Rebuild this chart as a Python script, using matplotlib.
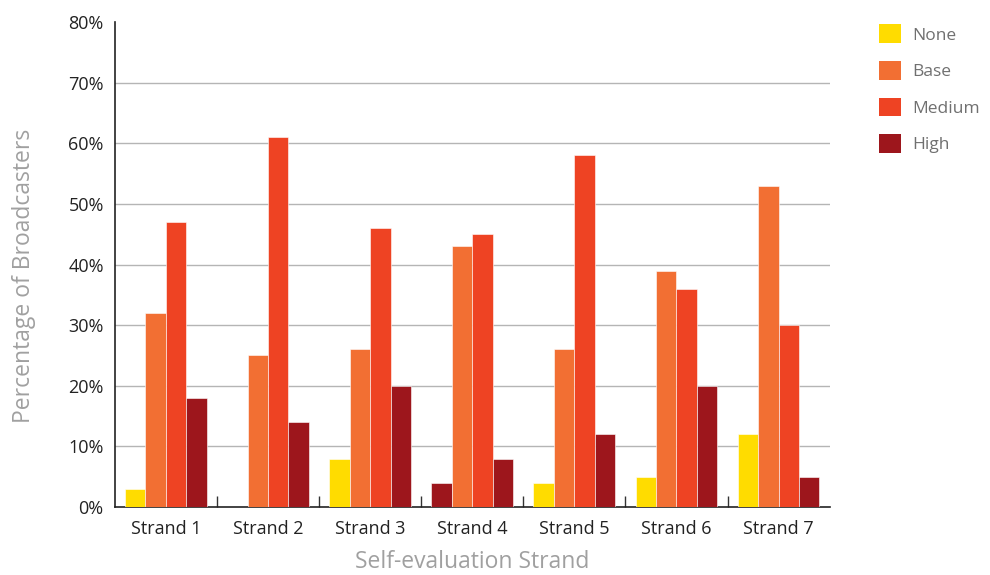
import numpy as np
import matplotlib
matplotlib.use("Agg")
import matplotlib.pyplot as plt
from matplotlib.patches import Patch

strands = ["Strand 1", "Strand 2", "Strand 3", "Strand 4", "Strand 5", "Strand 6", "Strand 7"]
none_vals = [3, 0, 8, 4, 4, 5, 12]
base_vals = [32, 25, 26, 43, 26, 39, 53]
medium_vals = [47, 61, 46, 45, 58, 36, 30]
high_vals = [18, 14, 20, 8, 12, 20, 5]
series_names = ["None", "Base", "Medium", "High"]
y_ticks = [0, 10, 20, 30, 40, 50, 60, 70, 80]

colors = ["#FFDC00", "#F26F33", "#EE4323", "#9D161C"]

plt.rcParams["font.family"] = ["Open Sans", "DejaVu Sans"]

fig = plt.figure(figsize=(9.9, 5.75), dpi=100)
ax = fig.add_axes([0.116, 0.118, 0.722, 0.844])

x = np.arange(len(strands))
w = 0.2
all_vals = [none_vals, base_vals, medium_vals, high_vals]
for i, vals in enumerate(all_vals):
    bar_colors = [colors[i]] * len(vals)
    if i == 0:
        # the original draws the Strand 4 "None" bar in the High colour
        bar_colors[3] = colors[3]
    ax.bar(x + (i - 1.5) * w, vals, width=w, color=bar_colors,
           edgecolor="white", linewidth=0.4, zorder=3)

ax.set_xlim(-0.5, len(strands) - 0.5)
ax.set_ylim(0, 80)
ax.set_yticks(y_ticks)
ax.set_yticklabels([f"{v}%" for v in y_ticks])
ax.set_xticks(x)
ax.set_xticklabels(strands)
ax.set_xticks(np.arange(0.5, len(strands) - 0.5, 1), minor=True)

ax.tick_params(axis="x", which="major", length=0, pad=9, labelsize=13, labelcolor="#222222")
ax.tick_params(axis="x", which="minor", direction="in", length=8, width=1, color="#333333")
ax.tick_params(axis="y", length=0, pad=8, labelsize=13, labelcolor="#222222")

for v in y_ticks[1:-1]:
    ax.axhline(v, color="#b5b5b5", linewidth=1, zorder=1)

for s in ["top", "right"]:
    ax.spines[s].set_visible(False)
for s in ["left", "bottom"]:
    ax.spines[s].set_color("#222222")
    ax.spines[s].set_linewidth(1.2)

ax.set_ylabel("Percentage of Broadcasters", fontsize=16.5, color="#a0a0a0")
ax.yaxis.set_label_coords(-0.11, 0.476)
ax.set_xlabel("Self-evaluation Strand", fontsize=16.5, color="#a0a0a0", labelpad=9)

handles = [Patch(facecolor=c, edgecolor="none") for c in colors]
fig.legend(handles, series_names, loc="upper left", bbox_to_anchor=(0.872, 0.985),
           frameon=False, fontsize=12.5, handlelength=1.3, handleheight=1.3,
           labelspacing=1.0, handletextpad=0.6, labelcolor="#707070")

fig.savefig("out.png", dpi=100)
